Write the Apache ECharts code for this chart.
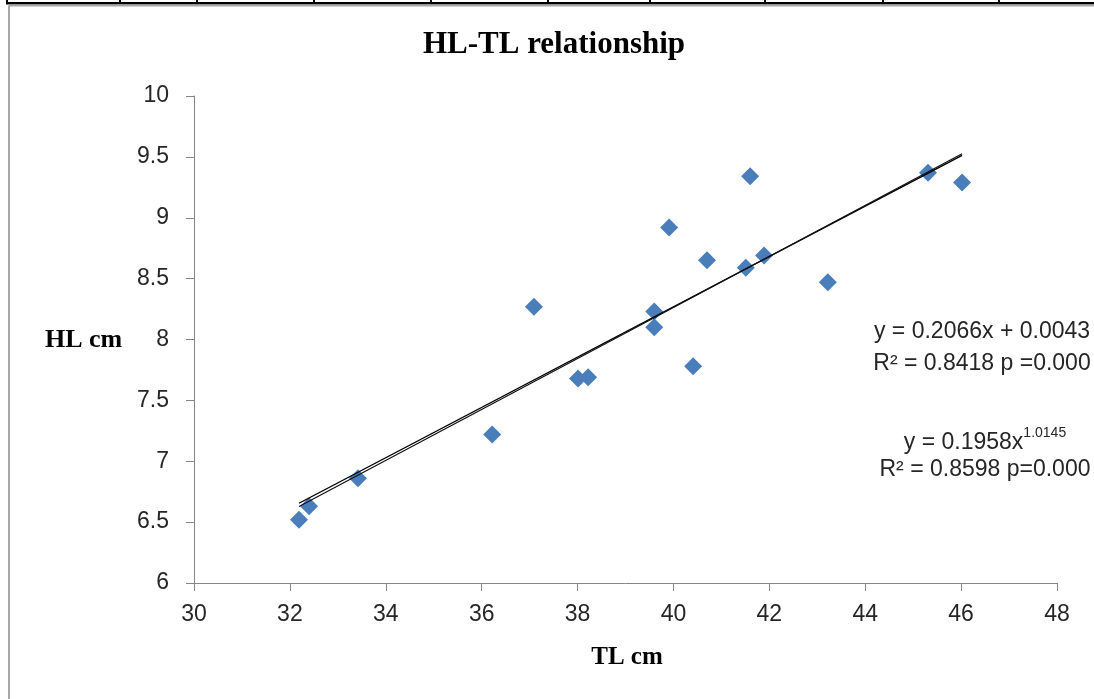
<!DOCTYPE html>
<html>
<head>
<meta charset="utf-8">
<script src="https://cdn.jsdelivr.net/npm/echarts@6/dist/echarts.min.js"></script>
<style>
html,body{margin:0;padding:0;background:#fff;}
#c{width:1094px;height:699px;}
</style>
</head>
<body>
<div id="c"></div>
<script>
// TL (cm) values of the samples
var tl = [32.19, 32.40, 33.42, 36.22, 37.09, 38.01, 38.22, 39.60, 39.60, 39.91, 40.41, 40.70, 41.51, 41.60, 41.89, 43.22, 45.31, 46.02];
// HL (cm) values of the samples
var hl = [6.52, 6.63, 6.86, 7.22, 8.27, 7.68, 7.69, 8.23, 8.10, 8.92, 7.78, 8.65, 8.59, 9.34, 8.69, 8.47, 9.37, 9.29];
// trend line end points
var linearTrendX = [32.19, 46.02];
var linearTrendY = [6.655, 9.512];
var powerTrendX = [32.19, 39.10, 46.02];
var powerTrendY = [6.628, 8.074, 9.525];
// axis ticks
var xTicks = [30, 32, 34, 36, 38, 40, 42, 44, 46, 48];
var yTicks = [6, 6.5, 7, 7.5, 8, 8.5, 9, 9.5, 10];
// table-border dividers above the chart
var dividerX = [7, 120, 197, 314, 431, 548, 650, 765, 883, 999];

function zip(a, b) { return a.map(function (v, i) { return [v, b[i]]; }); }

var chart = echarts.init(document.getElementById('c'), null, {renderer: 'canvas'});
var sans = 'Liberation Sans';
var serif = 'Liberation Serif';
var axisGray = '#868686';

var graphics = [
  {type: 'rect', shape: {x: 6, y: 2, width: 1100, height: 2.5}, style: {fill: '#000'}, silent: true},
  {type: 'line', shape: {x1: 9, y1: 5.5, x2: 1100, y2: 5.5}, style: {stroke: '#a6a6a6', lineWidth: 2}, silent: true},
  {type: 'line', shape: {x1: 9, y1: 5.5, x2: 9, y2: 705}, style: {stroke: '#a6a6a6', lineWidth: 2}, silent: true},
  {type: 'text', x: 554, y: 45, style: {text: 'HL-TL relationship', font: 'bold 31px "' + serif + '"', fill: '#000', textAlign: 'center', textVerticalAlign: 'middle'}},
  {type: 'text', x: 45, y: 340, style: {text: 'HL cm', font: 'bold 26px "' + serif + '"', fill: '#000', textAlign: 'left', textVerticalAlign: 'middle'}},
  {type: 'text', x: 627, y: 658, style: {text: 'TL cm', font: 'bold 25px "' + serif + '"', fill: '#000', textAlign: 'center', textVerticalAlign: 'middle'}},
  {type: 'text', x: 982, y: 332, style: {text: 'y = 0.2066x + 0.0043', font: '23px "' + sans + '"', fill: '#262626', textAlign: 'center', textVerticalAlign: 'middle'}},
  {type: 'text', x: 982, y: 364, style: {text: 'R² = 0.8418 p =0.000', font: '23px "' + sans + '"', fill: '#262626', textAlign: 'center', textVerticalAlign: 'middle'}},
  {type: 'text', x: 985, y: 440, style: {
    text: '{m|y = 0.1958x}{s|1.0145}',
    textAlign: 'center', textVerticalAlign: 'middle',
    rich: {
      m: {fontFamily: sans, fontSize: 23, fill: '#262626', lineHeight: 28, verticalAlign: 'bottom'},
      s: {fontFamily: sans, fontSize: 14, fill: '#262626', lineHeight: 28, verticalAlign: 'top'}
    }
  }},
  {type: 'text', x: 985, y: 470, style: {text: 'R² = 0.8598 p=0.000', font: '23px "' + sans + '"', fill: '#262626', textAlign: 'center', textVerticalAlign: 'middle'}}
];
dividerX.forEach(function (x) {
  graphics.push({type: 'rect', shape: {x: x - 1, y: 0, width: 2, height: 4}, style: {fill: '#000'}, silent: true});
});

var option = {
  backgroundColor: '#fff',
  animation: false,
  grid: {left: 194, right: 37, top: 96, bottom: 116, containLabel: false},
  xAxis: {
    type: 'value', min: 30, max: 48, interval: 2,
    axisLine: {show: true, lineStyle: {color: axisGray, width: 1}},
    axisTick: {show: true, inside: false, length: 8, lineStyle: {color: axisGray}},
    axisLabel: {margin: 20, fontFamily: sans, fontSize: 23, color: '#262626',
      formatter: function (v) { return xTicks.indexOf(v) >= 0 ? String(v) : ''; }},
    splitLine: {show: false}
  },
  yAxis: {
    type: 'value', min: 6, max: 10, interval: 0.5,
    axisLine: {show: true, lineStyle: {color: axisGray, width: 1}},
    axisTick: {show: true, inside: false, length: 8, lineStyle: {color: axisGray}},
    axisLabel: {margin: 25, fontFamily: sans, fontSize: 23, color: '#262626',
      formatter: function (v) { return yTicks.indexOf(v) >= 0 ? String(v) : ''; }},
    splitLine: {show: false}
  },
  series: [
    {
      type: 'line', data: zip(linearTrendX, linearTrendY), showSymbol: false, symbol: 'none',
      lineStyle: {color: '#000', width: 1.4}, z: 3, silent: true
    },
    {
      type: 'line', data: zip(powerTrendX, powerTrendY), showSymbol: false, symbol: 'none', smooth: true,
      lineStyle: {color: '#111', width: 1.2}, z: 3, silent: true
    },
    {
      type: 'scatter', data: zip(tl, hl), symbol: 'diamond', symbolSize: 18,
      itemStyle: {color: '#4A7EBB', opacity: 1}, z: 2
    }
  ],
  graphic: graphics
};
chart.setOption(option);
</script>
</body>
</html>
